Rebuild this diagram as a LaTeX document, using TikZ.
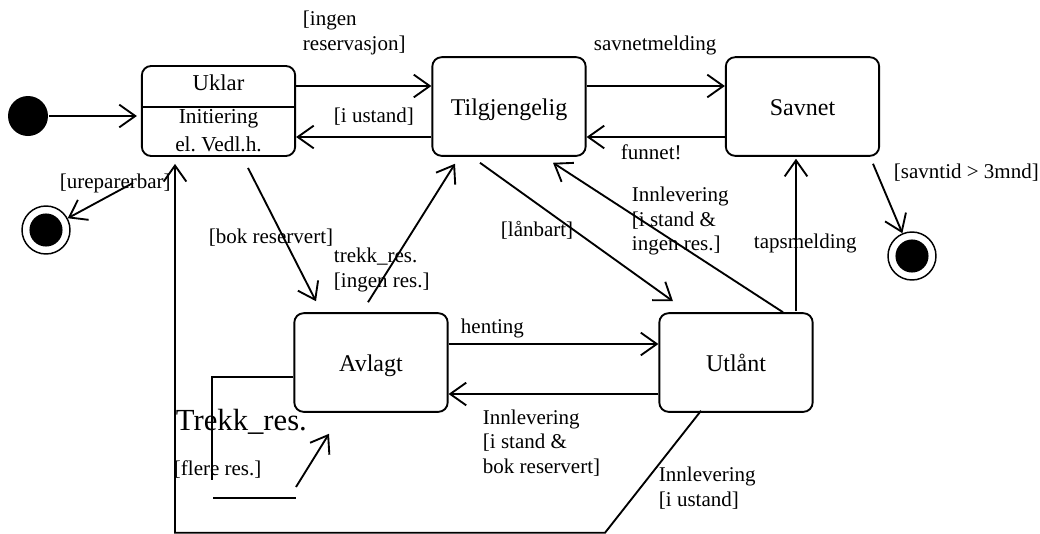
\documentclass[tikz,border=0pt]{standalone}
\usepackage{fontspec}
\setmainfont{Liberation Serif}
\frenchspacing
\usetikzlibrary{arrows.meta}

\begin{document}
\begin{tikzpicture}[x=0.75pt, y=-0.75pt, line width=1.4pt,
  every node/.style={inner sep=0pt},
  state/.style={draw, rounded corners=7pt, minimum width=115pt, minimum height=74pt,
    font=\fontsize{18}{21}\selectfont, text height=1.3em, text depth=0pt},
  lbl/.style={anchor=west, align=left, font=\fontsize{15.75}{18.5}\selectfont},
  fin/.style={circle, draw, line width=1.1pt, minimum size=36pt,
    path picture={\fill (path picture bounding box.center) circle (12.4pt);}},
  tr/.style={-{Straight Barb[length=12pt,width=17pt]}}]
  \useasboundingbox (0,0) rectangle (1040,533);

  % Start / stop
  \node[circle, fill, minimum size=30pt] (init) at (28,116) {};
  \node[fin] (fin1) at (46,230) {};
  \node[fin] (fin2) at (912,256) {};

  % States
  \node[state, minimum height=67.5pt] (uklar) at (218.5,111) {};
  \draw[line width=1.1pt] (uklar.west |- 0,107) -- (uklar.east |- 0,107);
  \node[font=\fontsize{17}{20}\selectfont] (uklarname) at (218.5,83) {Uklar};
  \node[align=center, font=\fontsize{16}{21}\selectfont] (uklaract) at (218.5,131)
    {Initiering\\el. Vedl.h.};
  \node[state] (tilg) at (509,106.5) {Tilgjengelig};
  \node[state] (savnet) at (802.5,106.5) {Savnet};
  \node[state] (avlagt) at (371,362.5) {Avlagt};
  \node[state] (utlaant) at (736,362.5) {Utlånt};

  % Transitions, top row
  \draw[tr, shorten >=3pt] (init) -- (uklar.west |- init);
  \draw[tr] (uklar.east |- 0,86) -- (tilg.west |- 0,86);
  \draw[tr] (tilg.west |- 0,137) -- (uklar.east |- 0,137);
  \draw[tr] (tilg.east |- 0,86) -- (savnet.west |- 0,86);
  \draw[tr] (savnet.west |- 0,137) -- (tilg.east |- 0,137);
  \draw[tr] ([shift={(70.5,7)}]savnet.south) -- (fin2);
  \draw[tr] ([shift={(-85.5,26)}]uklar.south) -- (fin1);

  % Transitions, between rows
  \draw[tr] ([shift={(29.5,11)}]uklar.south) -- ([shift={(-55,-11)}]avlagt.north);
  \draw[tr] ([shift={(-3,-10)}]avlagt.north) -- ([shift={(-54,7)}]tilg.south);
  \draw[tr] ([shift={(-29,6)}]tilg.south) -- ([shift={(-63,-11)}]utlaant.north);
  \draw[tr] ([shift={(47,0)}]utlaant.north) -- ([shift={(44,6)}]tilg.south);
  \draw[tr] ([shift={(60,-1)}]utlaant.north) -- ([shift={(-6.5,2)}]savnet.south);

  % Transitions, bottom row
  \draw[tr] (avlagt.east |- 0,344) -- (utlaant.west |- 0,344);
  \draw[tr] (utlaant.west |- 0,394) -- (avlagt.east |- 0,394);
  \draw[tr] ([shift={(-35,-2)}]utlaant.south) -- ++(-96,122)
    -| ([shift={(-43.5,7)}]uklar.south);

  % Self loop on Avlagt
  \coordinate (loopa) at (213,498);
  \coordinate (loopb) at (296,498);
  \coordinate (loopc) at (296,487);
  \draw (avlagt.west |- 0,377) -- ++(-81,0) -- ++(0,103);
  \draw (loopa) -- (loopb);
  \draw[tr] (loopc) -- ([shift={(-42,21)}]avlagt.south);

  % Labels
  \node[lbl] (tingen) at (302,33) {[ingen\\reservasjon]};
  \node[lbl] (tustand) at (333,117) {[i ustand]};
  \node[lbl] (tsavnet) at (593,45) {savnetmelding};
  \node[lbl] (tfunnet) at (620,152) {funnet!};
  \node[lbl] (tsavntid) at (893,173) {[savntid > 3mnd]};
  \node[lbl] (turep) at (59,183) {[ureparerbar]};
  \node[lbl] (tbok) at (208,238) {[bok reservert]};
  \node[lbl] (ttrekk) at (333,270) {trekk\_res.\\{[}ingen res.]};
  \node[lbl] (tlaan) at (500,230) {[lånbart]};
  \node[lbl] (tinningen) at (631,221) {Innlevering\\{[}i stand \&\\ingen res.]};
  \node[lbl] (ttap) at (753,243) {tapsmelding};
  \node[lbl] (thent) at (460,328) {henting};
  \node[lbl] (tinnbok) at (482,443) {Innlevering\\{[}i stand \&\\bok reservert]};
  \node[lbl] (tinnust) at (658,488) {Innlevering\\{[}i ustand]};
  \node[lbl, font=\fontsize{23}{27}\selectfont] (tloop) at (175,422) {Trekk\_res.};
  \node[lbl] (tflere) at (173,470) {[flere res.]};
\end{tikzpicture}
\end{document}
